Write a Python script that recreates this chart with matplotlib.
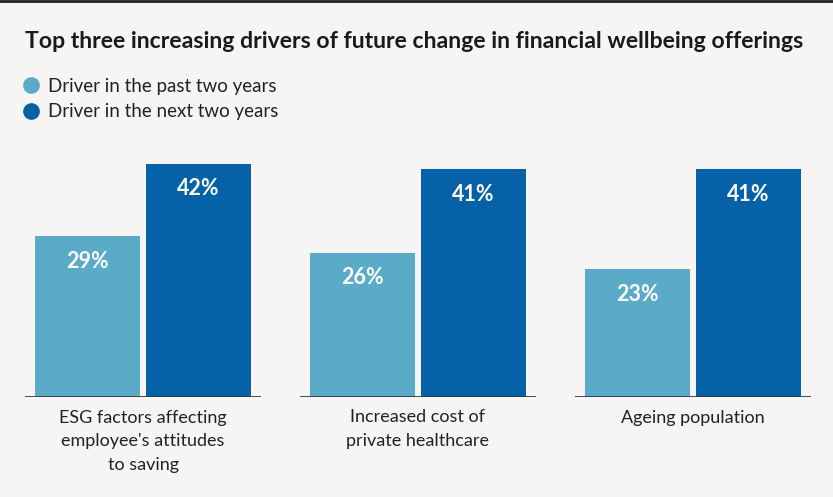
import numpy as np
import matplotlib.pyplot as plt
from matplotlib.lines import Line2D

categories = ["ESG factors affecting\nemployee's attitudes\nto saving",
              "Increased cost of\nprivate healthcare",
              "Ageing population"]
past = [29, 26, 23]
nxt = [42, 41, 41]
series_names = ["Driver in the past two years", "Driver in the next two years"]

LIGHT = '#5aabc8'
DARK = '#0562a8'
BG = '#f6f5f3'

plt.rcParams['font.family'] = ['Lato', 'DejaVu Sans']

fig = plt.figure(figsize=(8.33, 4.97), dpi=100, facecolor=BG)
ax = fig.add_axes([0, 100 / 497, 1, 267 / 497])
ax.set_facecolor(BG)

x = np.arange(len(categories))
w = 105 / 275
off = 111 / 2 / 275
b1 = ax.bar(x - off, past, w, color=LIGHT)
b2 = ax.bar(x + off, nxt, w, color=DARK)

# value labels just inside the top of each bar
for bars, vals in ((b1, past), (b2, nxt)):
    for b, v in zip(bars, vals):
        ax.text(b.get_x() + b.get_width() / 2, v - 4.5, f'{v}%',
                ha='center', va='center', color='white',
                fontsize=15.5, fontweight='bold')

# short baseline under each pair
ax.hlines([0] * len(x), x - 0.429, x + 0.429, color='#3a3a3a', lw=1.3)

ax.set_xlim(-143 / 275, (833 - 143) / 275)
ax.set_ylim(0, 48.1)
ax.set_xticks(x)
ax.set_xticklabels(categories, fontsize=13, color='#222222', linespacing=1.6)
ax.tick_params(axis='x', length=0, pad=9)
ax.set_yticks([])
for s in ax.spines.values():
    s.set_visible(False)

fig.text(25 / 833, 1 - 41 / 497,
         'Top three increasing drivers of future change in financial wellbeing offerings',
         fontsize=16.6, fontweight='bold', color='#1a1a1a', va='center')

handles = [Line2D([], [], marker='o', ls='', color=c, markersize=11)
           for c in (LIGHT, DARK)]
fig.legend(handles, series_names, loc='upper left',
           bbox_to_anchor=(12 / 833, 1 - 78 / 497), frameon=False,
           fontsize=13.5, handletextpad=-0.1, labelspacing=0.45,
           borderaxespad=0, borderpad=0, labelcolor='#222222')

# thin dark rule along the top edge
fig.add_artist(Line2D([0, 1], [0.998, 0.998], color='#222222', lw=2))

fig.savefig('out.png', dpi=100, facecolor=BG)
